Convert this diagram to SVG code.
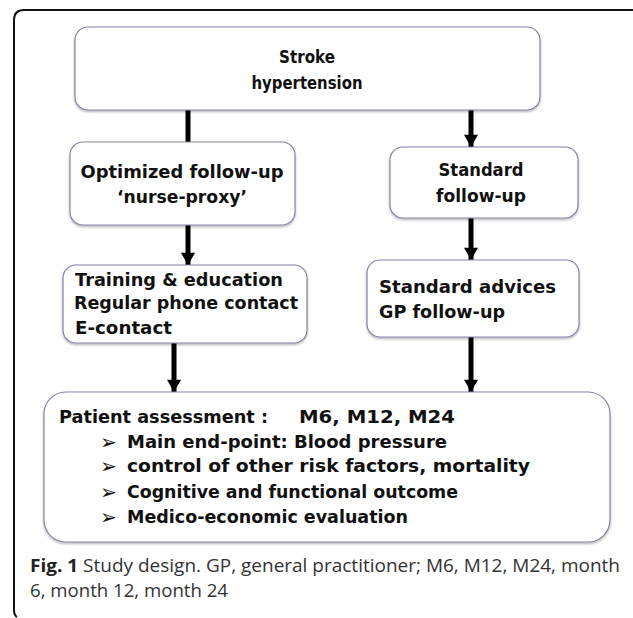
<svg xmlns="http://www.w3.org/2000/svg" width="633" height="618" viewBox="0 0 633 618">
<defs>
<filter id="sh" x="-5%" y="-5%" width="110%" height="120%">
<feDropShadow dx="0" dy="1.5" stdDeviation="1.2" flood-color="#000" flood-opacity="0.3"/>
</filter>
<marker id="ah" markerUnits="userSpaceOnUse" markerWidth="16" markerHeight="14" refX="13" refY="7.5" orient="auto" viewBox="0 0 16 15">
<path d="M0,0 L13,7.5 L0,15 z" fill="#000"/>
</marker>
<style>
.box{fill:#fff;stroke:#8585a6;stroke-width:1.2;filter:url(#sh)}
.t{font-family:"DejaVu Sans",sans-serif;font-weight:bold;font-size:17px;fill:#111}
.b{font-family:"DejaVu Sans",sans-serif;font-size:20px;fill:#111}
.conn{stroke:#000;stroke-width:5;fill:none}
.cap{font-family:"Open Sans",sans-serif;font-size:18px;fill:#333}
</style>
</defs>
<rect width="633" height="618" fill="#fff"/>
<path d="M633,10 H24 Q14,10 14,20 V610 Q14,615 17,617" fill="none" stroke="#111" stroke-width="2"/>

<g id="connectors">
<line class="conn" x1="188" y1="110" x2="188" y2="142"/>
<line class="conn" x1="471" y1="110" x2="471" y2="147" marker-end="url(#ah)"/>
<line class="conn" x1="188" y1="225" x2="188" y2="265" marker-end="url(#ah)"/>
<line class="conn" x1="471" y1="218" x2="471" y2="260" marker-end="url(#ah)"/>
<line class="conn" x1="174" y1="343" x2="174" y2="392" marker-end="url(#ah)"/>
<line class="conn" x1="471" y1="337" x2="471" y2="392" marker-end="url(#ah)"/>
</g>

<g id="top">
<rect class="box" x="75" y="27" width="465" height="83" rx="13"/>
<text class="t" x="307" y="63" text-anchor="middle" textLength="56" lengthAdjust="spacingAndGlyphs">Stroke</text>
<text class="t" x="307" y="89" text-anchor="middle" textLength="111" lengthAdjust="spacingAndGlyphs">hypertension</text>
</g>

<g id="optimized">
<rect class="box" x="70" y="142" width="225" height="83" rx="13"/>
<text class="t" x="182" y="178" text-anchor="middle" textLength="203" lengthAdjust="spacingAndGlyphs">Optimized follow-up</text>
<text class="t" x="182" y="203" text-anchor="middle" textLength="130" lengthAdjust="spacingAndGlyphs">‘nurse-proxy’</text>
</g>

<g id="standard">
<rect class="box" x="390" y="147" width="188" height="71" rx="13"/>
<text class="t" x="481" y="176" text-anchor="middle" textLength="85" lengthAdjust="spacingAndGlyphs">Standard</text>
<text class="t" x="481" y="202" text-anchor="middle" textLength="90" lengthAdjust="spacingAndGlyphs">follow-up</text>
</g>

<g id="training">
<rect class="box" x="63" y="265" width="244" height="78" rx="13"/>
<text class="t" x="75" y="286" textLength="208" lengthAdjust="spacingAndGlyphs">Training &amp; education</text>
<text class="t" x="74" y="309" textLength="224" lengthAdjust="spacingAndGlyphs">Regular phone contact</text>
<text class="t" x="75" y="334" textLength="97" lengthAdjust="spacingAndGlyphs">E-contact</text>
</g>

<g id="advices">
<rect class="box" x="367" y="260" width="212" height="77" rx="13"/>
<text class="t" x="379" y="293" textLength="177" lengthAdjust="spacingAndGlyphs">Standard advices</text>
<text class="t" x="379" y="318" textLength="126" lengthAdjust="spacingAndGlyphs">GP follow-up</text>
</g>

<g id="assessment">
<rect class="box" x="44" y="392" width="566" height="150" rx="22"/>
<text class="t" x="59" y="423" textLength="209" lengthAdjust="spacingAndGlyphs">Patient assessment :</text>
<text class="t" x="299" y="423" textLength="156" lengthAdjust="spacingAndGlyphs">M6, M12, M24</text>
<text class="b" x="100" y="449">➢</text>
<text class="t" x="127" y="448" textLength="320" lengthAdjust="spacingAndGlyphs">Main end-point: Blood pressure</text>
<text class="b" x="100" y="473">➢</text>
<text class="t" x="127" y="472" textLength="403" lengthAdjust="spacingAndGlyphs">control of other risk factors, mortality</text>
<text class="b" x="100" y="499">➢</text>
<text class="t" x="127" y="498" textLength="331" lengthAdjust="spacingAndGlyphs">Cognitive and functional outcome</text>
<text class="b" x="100" y="524">➢</text>
<text class="t" x="127" y="523" textLength="281" lengthAdjust="spacingAndGlyphs">Medico-economic evaluation</text>
</g>

<g id="caption">
<text class="cap" x="30" y="572" textLength="590" lengthAdjust="spacingAndGlyphs"><tspan font-weight="bold" fill="#222">Fig. 1</tspan> Study design. GP, general practitioner; M6, M12, M24, month</text>
<text class="cap" x="30" y="597" textLength="198" lengthAdjust="spacingAndGlyphs">6, month 12, month 24</text>
</g>
</svg>
